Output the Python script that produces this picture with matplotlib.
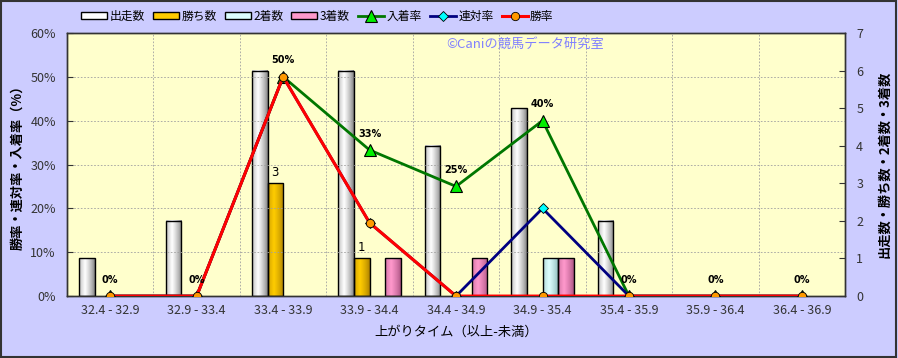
import numpy as np
import matplotlib
matplotlib.use("Agg")
import matplotlib.pyplot as plt
from matplotlib.patches import Rectangle

plt.rcParams['font.family'] = ['Noto Sans CJK JP', 'DejaVu Sans']

# data
categories = ["32.4 - 32.9", "32.9 - 33.4", "33.4 - 33.9", "33.9 - 34.4", "34.4 - 34.9",
              "34.9 - 35.4", "35.4 - 35.9", "35.9 - 36.4", "36.4 - 36.9"]
runs = [1, 2, 6, 6, 4, 5, 2, 0, 0]          # 出走数
wins = [0, 0, 3, 1, 0, 0, 0, 0, 0]          # 勝ち数
seconds = [0, 0, 0, 0, 0, 1, 0, 0, 0]       # 2着数
thirds = [0, 0, 0, 1, 1, 1, 0, 0, 0]        # 3着数
place_rate = [0, 0, 50, 33.3, 25, 40, 0, 0, 0]   # 入着率
rentai_rate = [0, 0, 50, 16.7, 0, 20, 0, 0, 0]   # 連対率
win_rate = [0, 0, 50, 16.7, 0, 0, 0, 0, 0]       # 勝率
place_labels = ["0%", "0%", "50%", "33%", "25%", "40%", "0%", "0%", "0%"]

BG = "#CCCCFF"
PLOT_BG = "#FFFFCC"

fig = plt.figure(figsize=(8.98, 3.58), dpi=100, facecolor=BG)
fig.patches.append(Rectangle((0.001, 0.002), 0.997, 0.995, transform=fig.transFigure,
                             fill=False, edgecolor="#333333", lw=1.5))

ax = fig.add_axes([0.0746, 0.173, 0.8665, 0.735])
ax2 = ax.twinx()

x = np.arange(len(categories))
w = 0.18

bar_series = [
    (runs, "出走数", "#FFFFFF", "#7A7A7A"),
    (wins, "勝ち数", "#FFCC00", "#A67C00"),
    (seconds, "2着数", "#DDFFFF", "#7FB0B0"),
    (thirds, "3着数", "#FF99CC", "#A85080"),
]


def gradient_bar(axis, x0, width, h, light, dark):
    # cylinder-like shading across the bar width
    if h <= 0:
        return
    t = np.linspace(0, 1, 32)
    prof = np.clip(1 - np.abs(t - 0.38) / 0.62, 0, 1) ** 0.7
    c1 = np.array(matplotlib.colors.to_rgb(dark))
    c2 = np.array(matplotlib.colors.to_rgb(light))
    img = c1[None, :] + (c2 - c1)[None, :] * prof[:, None]
    axis.imshow(img[None, :, :], extent=(x0, x0 + width, 0, h), aspect='auto',
                zorder=2, interpolation='bilinear')
    axis.add_patch(Rectangle((x0, 0), width, h, fill=False, edgecolor="black", lw=1, zorder=3))


handles = []
for i, (vals, name, light, dark) in enumerate(bar_series):
    offs = (i - 1.5) * w
    for xi, v in zip(x, vals):
        gradient_bar(ax2, xi + offs - w / 2, w, v, light, dark)
    handles.append(Rectangle((0, 0), 1, 1, facecolor=light, edgecolor="black", lw=1, label=name))

# win count labels
for xi, v in zip(x, wins):
    if v > 0:
        ax2.text(xi - 0.5 * w, v + 0.12, str(v), ha='center', va='bottom', fontsize=8.5,
                 family=['DejaVu Sans'], color="black", zorder=6)

ax2.set_ylim(0, 7)
ax2.set_xlim(-0.5, len(categories) - 0.5)

# rate lines on left axis, drawn above bars; bars axis carries the background
ax.set_zorder(ax2.get_zorder() + 1)
ax.patch.set_visible(False)
ax2.patch.set_visible(True)
ax2.patch.set_facecolor(PLOT_BG)

l1, = ax.plot(x, place_rate, color="#007700", lw=2, marker="^", ms=8,
              mfc="#00EE00", mec="black", mew=0.8, label="入着率", zorder=4)
l2, = ax.plot(x, rentai_rate, color="#000080", lw=2, marker="D", ms=5,
              mfc="#00FFFF", mec="black", mew=0.6, label="連対率", zorder=5)
l3, = ax.plot(x, win_rate, color="#FF0000", lw=2.2, marker="o", ms=6,
              mfc="#FF9900", mec="black", mew=0.6, label="勝率", zorder=6)

for xi, v, lab in zip(x, place_rate, place_labels):
    ax.text(xi, v + 2.6, lab, ha='center', va='bottom', fontsize=7, fontweight='bold',
            family=['DejaVu Sans'], color="black", zorder=7)

ax.set_ylim(0, 60)
ax.set_xlim(-0.5, len(categories) - 0.5)
ax.set_yticks(np.arange(0, 61, 10))
ax.set_yticklabels([f"{v}%" for v in range(0, 61, 10)])
ax.set_xticks(x)
ax.set_xticklabels(categories)
ax.set_xticks(np.arange(0.5, len(categories) - 0.5, 1), minor=True)
ax.grid(axis='y', which='major', color="#A0A0A0", ls=(0, (2, 2)), lw=0.6)
ax.grid(axis='x', which='minor', color="#A0A0A0", ls=(0, (2, 2)), lw=0.6)
ax.tick_params(axis='x', which='both', length=0, labelsize=9, colors="#333333", pad=6)
ax.tick_params(axis='y', direction='in', length=4, labelsize=9, colors="#333333", pad=8)
ax2.tick_params(axis='y', direction='in', length=4, labelsize=9, colors="#333333", pad=8)
ax2.set_yticks(range(0, 8))
ax2.tick_params(axis='x', length=0)
for a in (ax, ax2):
    for s in a.spines.values():
        s.set_color("#333333")
        s.set_linewidth(1)

ax.set_ylabel("勝率・連対率・入着率（%）", fontsize=9.5, fontweight='bold', labelpad=4)
ax2.set_ylabel("出走数・勝ち数・2着数・3着数", fontsize=9.5, fontweight='bold', rotation=90, labelpad=10)
ax.set_xlabel("上がりタイム（以上-未満）", fontsize=9.5, labelpad=6)

ax.text(0.488, 0.955, "©Caniの競馬データ研究室", transform=ax.transAxes, fontsize=9.5,
        color="#8080FF", ha='left', va='center', zorder=8)

fig.legend(handles=handles + [l1, l2, l3], loc='center left', bbox_to_anchor=(0.085, 0.955),
           ncol=7, frameon=False, fontsize=8.5, handlelength=2.2, handleheight=0.6,
           columnspacing=0.7, handletextpad=0.2, borderaxespad=0)

fig.savefig("out.png", dpi=100, facecolor=BG)
